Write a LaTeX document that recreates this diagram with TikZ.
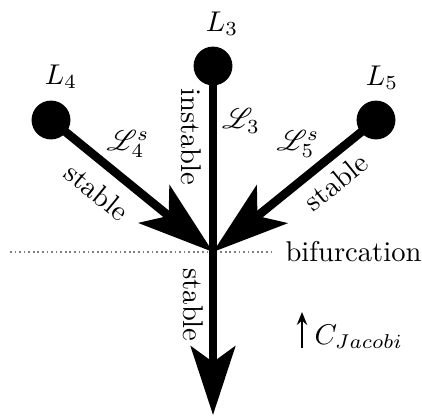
\documentclass[tikz,border=0pt]{standalone}
\usepackage{mathrsfs}
\usetikzlibrary{arrows.meta}

\tikzset{
  pt/.style={circle, fill=black, inner sep=0pt, minimum size=13.6pt},
  branch/.style={line width=3pt},
  bigtip/.style={-{Stealth[length=26.5pt, width=17pt, inset=6.5pt]}},
  downtip/.style={-{Stealth[length=24pt, width=15.5pt, inset=5.5pt]}},
  lbl/.style={inner sep=0pt},
  level/.style={gray, densely dotted, line width=0.6pt}
}

\begin{document}
\begin{tikzpicture}[x=0.35pt, y=-0.35pt]
  \useasboundingbox (0,0) rectangle (422,416);

  % bifurcation level
  \coordinate (dl) at (10,252);
  \coordinate (dr) at (272,252);
  \draw[level] (dl) -- (dr);

  % libration points
  \node[pt] (L3) at (213,66) {};
  \node[pt] (L4) at (51,120) {};
  \node[pt] (L5) at (376,120) {};
  \coordinate (B) at (213,252);
  \coordinate (E) at (213,415);

  % manifolds
  \draw[branch, downtip] (L3.center) -- (E);
  \draw[branch, bigtip] (L4.center) -- (B);
  \draw[branch, bigtip] (L5.center) -- (B);

  % point labels
  \node[lbl, anchor=base] (n3) at (222,31) {$L_3$};
  \node[lbl, anchor=base] (n4) at (61,84) {$L_4$};
  \node[lbl, anchor=base] (n5) at (382,85) {$L_5$};

  % manifold labels
  \node[lbl] (m3) at (241,121) {$\mathscr{L}_3$};
  \node[lbl] (m4) at (128,144) {$\mathscr{L}_4^s$};
  \node[lbl] (m5) at (298,144) {$\mathscr{L}_5^s$};

  \node[lbl, rotate=-90] (s3) at (191,137) {instable};
  \node[lbl, rotate=-39.5] (s4) at (97,192) {stable};
  \node[lbl, rotate=39] (s5) at (336,182) {stable};
  \node[lbl, rotate=-90] (s0) at (193,305) {stable};

  \node[lbl, anchor=west] (bif) at (285,252) {bifurcation};

  % Jacobi constant direction
  \coordinate (ja) at (302,348);
  \coordinate (jb) at (302,312);
  \draw[line width=1pt, -{Stealth[length=4.5pt, width=3.6pt]}] (ja) -- (jb);
  \node[lbl, anchor=base west] (cj) at (314,344) {$C_{Jacobi}$};
\end{tikzpicture}
\end{document}
